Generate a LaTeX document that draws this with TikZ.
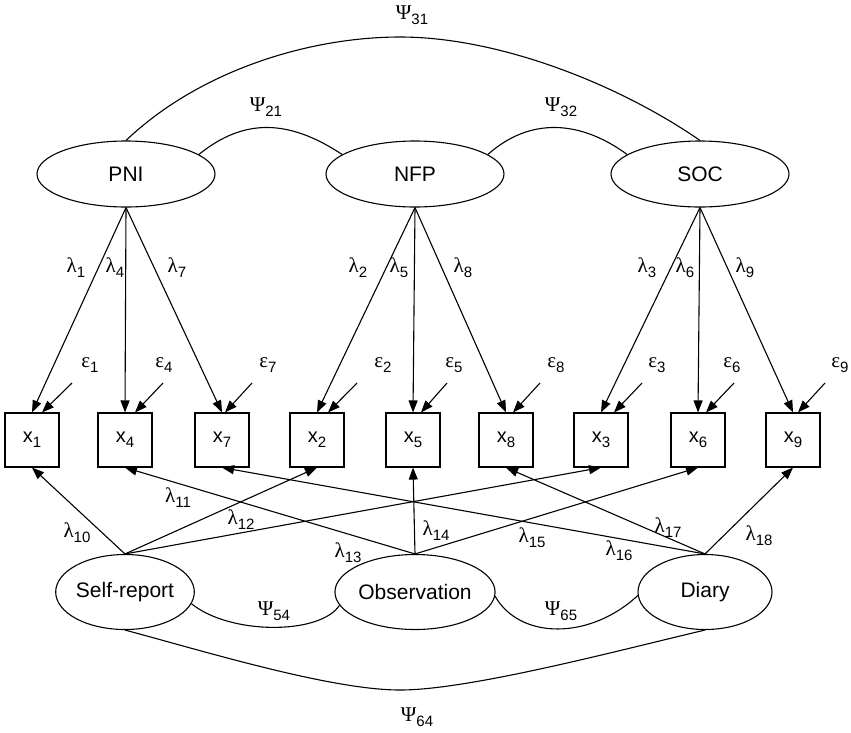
\documentclass[tikz,border=0pt]{standalone}
\usepackage{fontspec}
\setmainfont{Liberation Sans}
\newfontfamily\grkfont{Liberation Serif}
\usetikzlibrary{shapes.geometric,arrows.meta,calc}
% Greek symbol with a lowered sans-serif index
\newcommand\gsym[2]{{\grkfont\fontsize{21}{21}\selectfont #1}\raisebox{-5pt}{\fontsize{15}{15}\selectfont #2}}
% observed indicator x_i
\newcommand\obsv[1]{x\raisebox{-5pt}{\fontsize{15}{15}\selectfont #1}}
\begin{document}
\begin{tikzpicture}[x=1pt,y=-1pt,line width=1.1pt,
  latent/.style={draw,ellipse,inner sep=0pt,minimum width=178pt,minimum height=66pt,font=\fontsize{21}{21}\selectfont},
  method/.style={draw,ellipse,inner sep=0pt,minimum width=134pt,minimum height=75pt,font=\fontsize{21}{21}\selectfont},
  indicator/.style={draw,rectangle,minimum size=54pt,inner sep=0pt,font=\fontsize{20}{20}\selectfont},
  load/.style={-{Triangle[length=12pt,width=9pt]}},
  lbl/.style={inner sep=0pt}]
\useasboundingbox (0,0) rectangle (851,732);
\fill[white] (0,0) rectangle (851,732);

% trait factors
\node[latent] (PNI) at (126,174) {PNI};
\node[latent] (NFP) at (415,174) {NFP};
\node[latent] (SOC) at (700,174) {SOC};

% method factors
\node[method] (SR)  at (125,592) {Self-report};
\node[method] (OBS) at (415,592) {Observation};
\node[method] (DIA) at (705,592) {Diary};

% indicators
\node[indicator] (x1) at (32,440)  {\obsv{1}};
\node[indicator] (x4) at (125,440) {\obsv{4}};
\node[indicator] (x7) at (222,440) {\obsv{7}};
\node[indicator] (x2) at (317,440) {\obsv{2}};
\node[indicator] (x5) at (413,440) {\obsv{5}};
\node[indicator] (x8) at (506,440) {\obsv{8}};
\node[indicator] (x3) at (601,440) {\obsv{3}};
\node[indicator] (x6) at (698,440) {\obsv{6}};
\node[indicator] (x9) at (793,440) {\obsv{9}};

% trait loadings
\draw[load] (PNI.south) -- (x1.north);
\draw[load] (PNI.south) -- (x4.north);
\draw[load] (PNI.south) -- (x7.north);
\draw[load] (NFP.south) -- (x2.north);
\draw[load] (NFP.south) -- (x5.north);
\draw[load] (NFP.south) -- (x8.north);
\draw[load] (SOC.south) -- (x3.north);
\draw[load] (SOC.south) -- (x6.north);
\draw[load] (SOC.south) -- (x9.north);

\node[lbl] (l1) at (76,268)  {\gsym{λ}{1}};
\node[lbl] (l4) at (115,268) {\gsym{λ}{4}};
\node[lbl] (l7) at (177,268) {\gsym{λ}{7}};
\node[lbl] (l2) at (358,268) {\gsym{λ}{2}};
\node[lbl] (l5) at (399,268) {\gsym{λ}{5}};
\node[lbl] (l8) at (463,268) {\gsym{λ}{8}};
\node[lbl] (l3) at (647,268) {\gsym{λ}{3}};
\node[lbl] (l6) at (685,268) {\gsym{λ}{6}};
\node[lbl] (l9) at (745,268) {\gsym{λ}{9}};

% measurement errors
\coordinate (e1) at (72,383);
\coordinate (e4) at (163,383);
\coordinate (e7) at (252,383);
\coordinate (e2) at (357,383);
\coordinate (e5) at (447,383);
\coordinate (e8) at (540,383);
\coordinate (e3) at (642,383);
\coordinate (e6) at (734,383);
\coordinate (e9) at (825,383);
\draw[load] (e1) -- ($(x1.north)+(10,0)$);
\draw[load] (e4) -- ($(x4.north)+(10,0)$);
\draw[load] (e7) -- ($(x7.north)+(3,0)$);
\draw[load] (e2) -- ($(x2.north)+(11,0)$);
\draw[load] (e5) -- ($(x5.north)+(8,0)$);
\draw[load] (e8) -- ($(x8.north)+(7,0)$);
\draw[load] (e3) -- ($(x3.north)+(13,0)$);
\draw[load] (e6) -- ($(x6.north)+(8,0)$);
\draw[load] (e9) -- ($(x9.north)+(5,0)$);

\node[lbl] (n1) at (90,365)  {\gsym{ε}{1}};
\node[lbl] (n4) at (164,365) {\gsym{ε}{4}};
\node[lbl] (n7) at (268,365) {\gsym{ε}{7}};
\node[lbl] (n2) at (383,365) {\gsym{ε}{2}};
\node[lbl] (n5) at (454,365) {\gsym{ε}{5}};
\node[lbl] (n8) at (556,365) {\gsym{ε}{8}};
\node[lbl] (n3) at (657,365) {\gsym{ε}{3}};
\node[lbl] (n6) at (732,365) {\gsym{ε}{6}};
\node[lbl] (n9) at (840,365) {\gsym{ε}{9}};

% method loadings
\draw[load] (SR.north) -- (x1.south);
\draw[load] (SR.north) -- (x2.south);
\draw[load] (SR.north) -- (x3.south);
\draw[load] (OBS.north) -- (x4.south);
\draw[load] (OBS.north) -- (x5.south);
\draw[load] (OBS.north) -- (x6.south);
\draw[load] (DIA.north) -- (x7.south);
\draw[load] (DIA.north) -- (x8.south);
\draw[load] (DIA.north) -- (x9.south);

\node[lbl] (l10) at (77,533)  {\gsym{λ}{10}};
\node[lbl] (l11) at (178,498) {\gsym{λ}{11}};
\node[lbl] (l12) at (241,520) {\gsym{λ}{12}};
\node[lbl] (l13) at (348,553) {\gsym{λ}{13}};
\node[lbl] (l14) at (436,531) {\gsym{λ}{14}};
\node[lbl] (l15) at (532,538) {\gsym{λ}{15}};
\node[lbl] (l16) at (619,551) {\gsym{λ}{16}};
\node[lbl] (l17) at (668,528) {\gsym{λ}{17}};
\node[lbl] (l18) at (759,536) {\gsym{λ}{18}};

% trait covariances
\draw (PNI.north) .. controls (200,70) and (310,37) .. (400,37)
      .. controls (500,37) and (620,85) .. (SOC.north);
\draw (PNI.15) .. controls (245,117) and (290,120) .. (NFP.165);
\draw (NFP.15) .. controls (530,117) and (580,120) .. (SOC.165);
\node[lbl] (p31) at (412,15)  {\gsym{Ψ}{31}};
\node[lbl] (p21) at (266,107) {\gsym{Ψ}{21}};
\node[lbl] (p32) at (561,107) {\gsym{Ψ}{32}};

% method covariances
\draw (SR.-10) .. controls (230,635) and (320,635) .. (OBS.190);
\draw (OBS.-3) .. controls (520,640) and (590,640) .. (DIA.183);
\draw (SR.south) .. controls (200,650) and (330,690) .. (400,690)
      .. controls (470,690) and (620,650) .. (DIA.south);
\node[lbl] (p54) at (274,611) {\gsym{Ψ}{54}};
\node[lbl] (p65) at (561,611) {\gsym{Ψ}{65}};
\node[lbl] (p64) at (417,717) {\gsym{Ψ}{64}};
\end{tikzpicture}
\end{document}
